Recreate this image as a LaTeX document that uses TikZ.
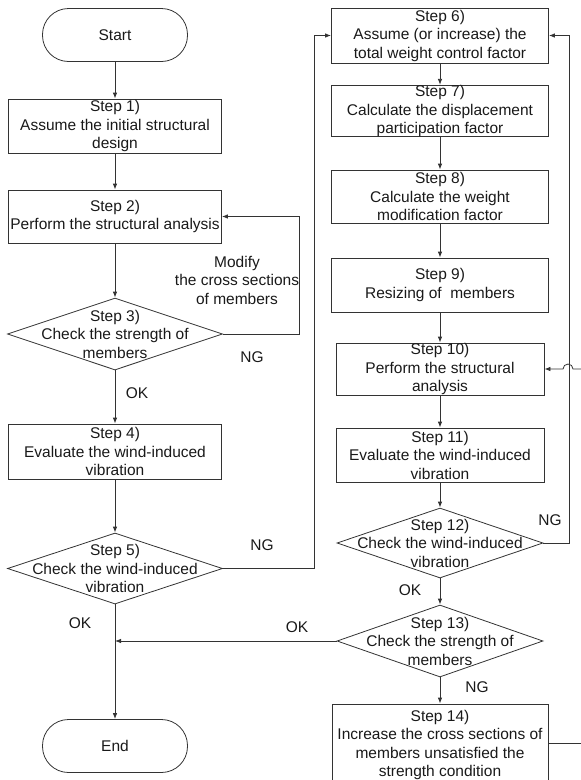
\documentclass[tikz,border=0pt]{standalone}
\usepackage{fontspec}
\setmainfont{Liberation Sans}
\usetikzlibrary{shapes.geometric,arrows.meta}

\begin{document}
\begin{tikzpicture}[x=1pt, y=1pt, color=black!80, line width=0.8pt,
    >={Latex[length=6pt,width=4.5pt]},
    every node/.style={font=\fontsize{15.5}{18.5}\selectfont, align=center, text=black!90},
    term/.style={draw, rounded corners=26pt, minimum width=145pt, minimum height=53pt},
    box/.style 2 args={draw, inner sep=0pt, minimum width=#1, minimum height=#2},
    dec/.style 2 args={draw, diamond, inner sep=0pt, minimum width=#1, minimum height=#2}]
    \useasboundingbox (0,0) rectangle (581,-780);
    \clip (0,0) rectangle (581,-780);
    % left column
    \node[term] (start) at (115,-35) {Start};
    \node[box={213pt}{54pt}] (s1) at (115,-126) {Step 1)\\Assume the initial structural\\design};
    \node[box={213pt}{53pt}] (s2) at (115,-216.5) {Step 2)\\Perform the structural analysis};
    \node[dec={215pt}{72pt}] (d3) at (115,-334) {};
    \node (d3t) at (d3) {Step 3)\\Check the strength of\\members};
    \node[box={213pt}{55pt}] (s4) at (115,-451.5) {Step 4)\\Evaluate the wind-induced\\vibration};
    \node[dec={215pt}{71pt}] (d5) at (115,-568.5) {};
    \node (d5t) at (d5) {Step 5)\\Check the wind-induced\\vibration};
    \node[term] (stop) at (115,-746) {End};
    % right column
    \node[box={217pt}{55pt}] (s6) at (440,-35.5) {Step 6)\\Assume (or increase) the\\total weight control factor};
    \node[box={217pt}{45pt}] (s7) at (440,-111) {Step 7)\\Calculate the displacement\\participation factor};
    \node[box={217pt}{53pt}] (s8) at (440,-196.5) {Step 8)\\Calculate the weight\\modification factor};
    \node[box={217pt}{54pt}] (s9) at (440,-285) {Step 9)\\Resizing of~ members};
    \node[box={208pt}{52pt}] (s10) at (440,-369) {Step 10)\\Perform the structural\\analysis};
    \node[box={208pt}{54pt}] (s11) at (440,-455) {Step 11)\\Evaluate the wind-induced\\vibration};
    \node[dec={206pt}{70pt}] (d12) at (440,-543) {};
    \node (d12t) at (d12) {Step 12)\\Check the wind-induced\\vibration};
    \node[dec={206pt}{72pt}] (d13) at (440,-641) {};
    \node (d13t) at (d13) {Step 13)\\Check the strength of\\members};
    \node[box={216pt}{82pt}] (s14) at (440,-745) {Step 14)\\Increase the cross sections of\\members unsatisfied the\\strength condition};
    \coordinate (in10) at (581,-369);
    \coordinate (out14) at (581,-743);
    % labels
    \node (mod) at (237,-280) {Modify\\the cross sections\\of members};
    \node (ng3) at (252,-357) {NG};
    \node (ok3) at (137,-393) {OK};
    \node (ng5) at (262,-545) {NG};
    \node (ok5) at (80,-623) {OK};
    \node (ok13) at (297,-627) {OK};
    \node (ng12) at (550,-520) {NG};
    \node (ok12) at (410,-590) {OK};
    \node (ng13) at (477,-687) {NG};
    % connectors
    \foreach \a/\b in {start/s1, s1/s2, s2/d3, d3/s4, s4/d5, d5/stop,
        s6/s7, s7/s8, s8/s9, s9/s10, s10/s11, s11/d12, d12/d13, d13/s14}
    \draw[->] (\a) -- (\b);
    \draw[->] (d3.east) -- ++(76,0) |- (s2.east);
    \draw[->] (d5.east) -- ++(91,0) |- (s6.west);
    \draw[->] (d12.east) -- ++(26,0) |- (s6.east);
    \draw[->] (d13.west) -- (d13.west -| stop);
    \draw[->] (in10) -- ++(-8,0) arc[start angle=0, end angle=180, radius=5pt] -- (s10.east);
    \draw (s14.east |- out14) -- (out14);
\end{tikzpicture}
\end{document}
